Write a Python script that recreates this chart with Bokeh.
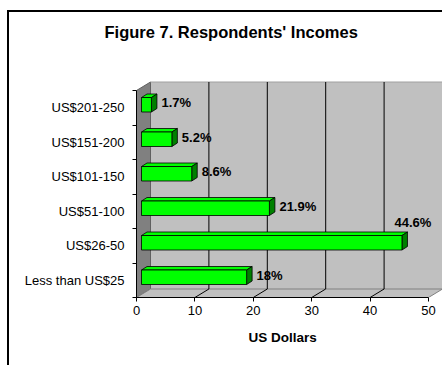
from bokeh.plotting import figure
from bokeh.models import FixedTicker, Title, ColumnDataSource
from bokeh.embed import file_html
from bokeh.resources import INLINE
from bokeh.core.properties import value

# ---- data ----
categories = ["Less than US$25", "US$26-50", "US$51-100", "US$101-150", "US$151-200", "US$201-250"]
percentages = [18, 44.6, 21.9, 8.6, 5.2, 1.7]
value_labels = ["18%", "44.6%", "21.9%", "8.6%", "5.2%", "1.7%"]
x_ticks = [0, 10, 20, 30, 40, 50]
title_text = "Figure 7. Respondents' Incomes"
x_title = "US Dollars"

# ---- layout (pixels) ----
W, H = 442, 365
FL, FR, FT, FB = 136, 442, 80, 297
SX = 5.84     # px per value unit
SY = 34.5     # px per category
XMAX = x_ticks[-1]
n = len(categories)
FONT = "Liberation Sans"

x_start, x_end = 0, (FR - FL) / SX
y_start, y_end = -0.5, -0.5 + (FB - FT) / SY


def dx(px):
    return px / SX


def dy(px):
    return px / SY


p = figure(width=W, height=H, x_range=(x_start, x_end), y_range=(y_start, y_end),
           output_backend="svg", toolbar_location=None,
           min_border_left=FL, min_border_right=W - FR,
           min_border_top=FT, min_border_bottom=H - FB)
p.outline_line_color = None
p.background_fill_color = "white"
p.border_fill_color = None
p.xgrid.visible = False
p.ygrid.visible = False
# outer chart border (top and left edges visible in the window)
p.styles = {
    "background-color": "white",
    "background-image": "linear-gradient(#000, #000), linear-gradient(#000, #000)",
    "background-position": "7px 10px, 7px 10px",
    "background-size": "2px 400px, 500px 2px",
    "background-repeat": "no-repeat",
}

# ---- 3D walls ----
WX, WY = dx(14), dy(8.5)
ymin, ymax = -0.5, n - 0.5

p.quad(left=[WX], right=[XMAX + WX], bottom=[ymin + WY], top=[ymax + WY],
       fill_color="#c0c0c0", line_color=None)
# side wall
p.patch([0, WX, WX, 0], [ymin, ymin + WY, ymax + WY, ymax],
        fill_color="#808080", line_color="#606060", line_width=1)
# floor
p.patch([0, XMAX, XMAX + WX, WX], [ymin, ymin, ymin + WY, ymin + WY],
        fill_color="#c0c0c0", line_color="#808080", line_width=1)
# back wall edges
p.segment(x0=[WX], y0=[ymax + WY], x1=[XMAX + WX], y1=[ymax + WY], line_color="#a0a0a0", line_width=1)
p.segment(x0=[XMAX + WX], y0=[ymin + WY], x1=[XMAX + WX], y1=[ymax + WY], line_color="#404040", line_width=1)
# gridlines on back wall and floor
inner = x_ticks[1:-1]
p.segment(x0=[v + WX for v in inner], y0=[ymin + WY] * len(inner),
          x1=[v + WX for v in inner], y1=[ymax + WY] * len(inner),
          line_color="black", line_width=1)
p.segment(x0=inner, y0=[ymin] * len(inner),
          x1=[v + WX for v in inner], y1=[ymin + WY] * len(inner),
          line_color="black", line_width=1)

# ---- 3D bars ----
BX, BY = dx(5), dy(3)
BH = dy(7.25)
TX, TY = dx(5.5), dy(3.5)
ys = list(range(n))
left = [BX] * n
right = [v + BX for v in percentages]
bottom = [i + BY - BH for i in ys]
top = [i + BY + BH for i in ys]

top_xs = [[l, r, r + TX, l + TX] for l, r in zip(left, right)]
top_ys = [[t, t, t + TY, t + TY] for t in top]
side_xs = [[r, r + TX, r + TX, r] for r in right]
side_ys = [[b, b + TY, t + TY, t] for b, t in zip(bottom, top)]

p.patches(top_xs, top_ys, fill_color="#00ff00", line_color="black", line_width=0.8)
p.patches(side_xs, side_ys, fill_color="#008000", line_color="black", line_width=0.8)
p.quad(left=left, right=right, bottom=bottom, top=top,
       fill_color="#00ff00", line_color="black", line_width=0.8)

# ---- value labels ----
lab_x, lab_y, lab_align = [], [], []
for v, i in zip(percentages, ys):
    if v > 40:
        lab_x.append(v + dx(16))
        lab_y.append(i + BY + BH + dy(13))
        lab_align.append("center")
    else:
        lab_x.append(v + dx(15))
        lab_y.append(i + dy(5))
        lab_align.append("left")
src = ColumnDataSource(dict(x=lab_x, y=lab_y, t=value_labels, a=lab_align))
p.text(x="x", y="y", text="t", source=src, text_align="a", text_baseline="middle",
       text_font=value(FONT), text_font_style="bold", text_font_size="13px", text_color="black")

# ---- axes ----
xa = p.xaxis[0]
xa.ticker = FixedTicker(ticks=x_ticks)
xa.bounds = (0, XMAX)
xa.axis_line_color = "black"
xa.major_tick_in = 0
xa.major_tick_out = 4
xa.minor_tick_line_color = None
xa.major_label_text_font = FONT
xa.major_label_text_font_size = "13px"
xa.major_label_text_color = "black"
xa.major_label_standoff = 4

ya = p.yaxis[0]
ya.ticker = FixedTicker(ticks=ys, minor_ticks=[i - 0.5 for i in range(n + 1)])
ya.major_label_overrides = {i: c for i, c in zip(ys, categories)}
ya.bounds = (ymin, ymax)
ya.axis_line_color = "black"
ya.major_tick_in = 0
ya.major_tick_out = 0
ya.minor_tick_in = 0
ya.minor_tick_out = 4
ya.minor_tick_line_color = "black"
ya.major_label_standoff = 8
ya.major_label_text_font = FONT
ya.major_label_text_font_size = "13px"
ya.major_label_text_color = "black"

# x-axis title, centred under the front value axis (0..50)
p.add_layout(Title(text=x_title, align="left", offset=112, standoff=20,
                   text_font=FONT, text_font_size="13.5px", text_font_style="bold",
                   text_color="black"), "below")

# spacing panel between the chart title and the plot area
p.add_layout(Title(text=" ", standoff=16, text_font_size="1px"), "above")

# chart title
p.title.text = title_text
p.title.align = "left"
p.title.vertical_align = "top"
p.title.offset = -32
p.title.standoff = 38
p.title.text_font = FONT
p.title.text_font_size = "16.5px"
p.title.text_font_style = "bold"
p.title.text_color = "black"

open("out.html", "w").write(file_html(p, INLINE))
